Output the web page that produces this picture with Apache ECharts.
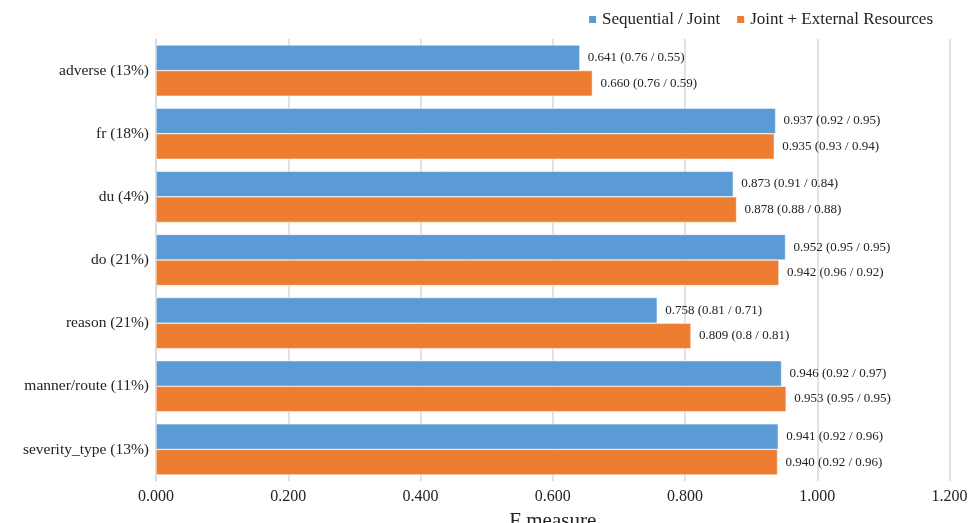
<!DOCTYPE html>
<html><head><meta charset="utf-8">
<script src="https://cdn.jsdelivr.net/npm/echarts@6/dist/echarts.min.js"></script>
<style>html,body{margin:0;padding:0;background:#fff}#c{width:971px;height:523px}</style>
</head><body><div id="c"></div>
<script>
const categories = ['adverse (13%)','fr (18%)','du (4%)','do (21%)','reason (21%)','manner/route (11%)','severity_type (13%)'];
const seqF = [0.641,0.937,0.873,0.952,0.758,0.946,0.941];
const seqP = ['0.76','0.92','0.91','0.95','0.81','0.92','0.92'];
const seqR = ['0.55','0.95','0.84','0.95','0.71','0.97','0.96'];
const extF = [0.660,0.935,0.878,0.942,0.809,0.953,0.940];
const extP = ['0.76','0.93','0.88','0.96','0.8','0.95','0.92'];
const extR = ['0.59','0.94','0.88','0.92','0.81','0.95','0.96'];
const xTicks = [0,0.2,0.4,0.6,0.8,1.0,1.2];

const font = 'Liberation Serif';
const chart = echarts.init(document.getElementById('c'));
function lbl(F,P,R){return p => F[p.dataIndex].toFixed(3)+' ('+P[p.dataIndex]+' / '+R[p.dataIndex]+')';}
chart.setOption({
  animation:false,
  textStyle:{fontFamily:font},
  legend:{right:33,top:6,itemWidth:9,itemHeight:9,itemGap:15,icon:'rect',
    textStyle:{fontFamily:font,fontSize:17,color:'#222'},
    data:['Sequential / Joint','Joint + External Resources']},
  grid:{left:156,right:21.5,top:39,bottom:42,containLabel:false,outerBoundsMode:'none'},
  xAxis:{type:'value',min:xTicks[0],max:xTicks[xTicks.length-1],interval:0.2,
    name:'F measure',nameLocation:'middle',nameGap:30,
    nameTextStyle:{fontFamily:font,fontSize:21,color:'#222'},
    axisLine:{show:false},axisTick:{show:false},
    axisLabel:{formatter:v=>v.toFixed(3),fontFamily:font,fontSize:16,color:'#222',margin:8},
    splitLine:{lineStyle:{color:'#d9d9d9',width:1.5}}},
  yAxis:{type:'category',data:categories,inverse:true,
    axisLine:{lineStyle:{color:'#d9d9d9',width:1.5}},axisTick:{show:false},
    axisLabel:{fontFamily:font,fontSize:15.5,color:'#222',margin:7}},
  series:[
    {name:'Sequential / Joint',type:'bar',data:seqF,barGap:'0%',barCategoryGap:'19%',
     itemStyle:{color:'#5b9bd5',borderColor:'#fff',borderWidth:0.5},
     label:{show:true,position:'right',distance:8,formatter:lbl(seqF,seqP,seqR),fontFamily:font,fontSize:13,color:'#222'}},
    {name:'Joint + External Resources',type:'bar',data:extF,barGap:'0%',barCategoryGap:'19%',
     itemStyle:{color:'#ed7d31',borderColor:'#fff',borderWidth:0.5},
     label:{show:true,position:'right',distance:8,formatter:lbl(extF,extP,extR),fontFamily:font,fontSize:13,color:'#222'}}
  ]
});
</script></body></html>
